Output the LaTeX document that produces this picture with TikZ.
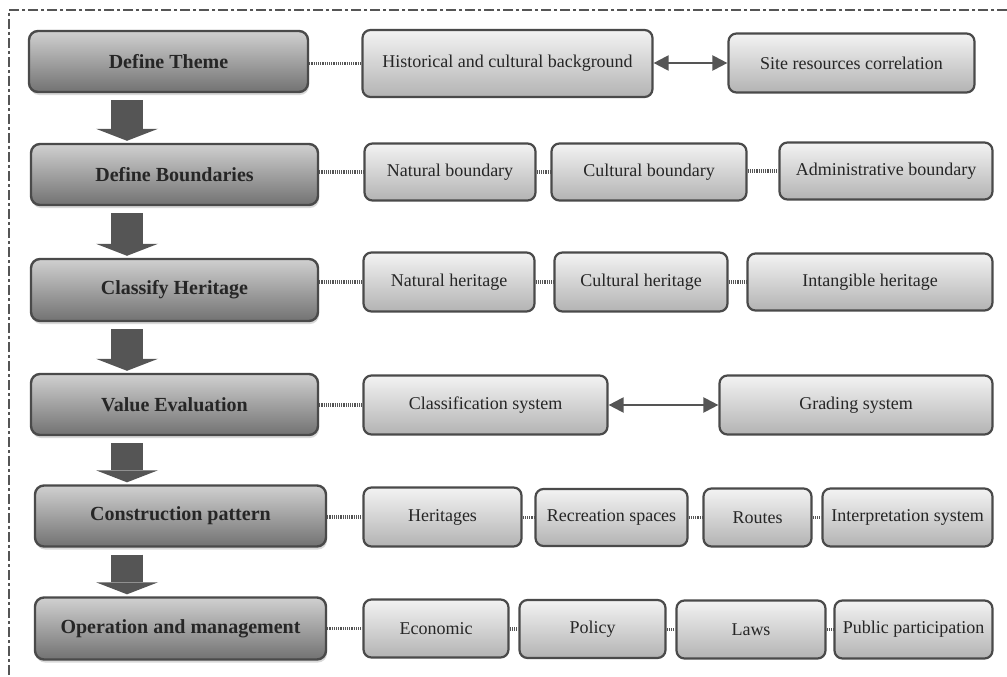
\documentclass[tikz,border=0pt]{standalone}
\usepackage{fontspec}
\setmainfont{Liberation Serif}
\usetikzlibrary{arrows.meta,shadows}
\definecolor{boxline}{HTML}{4A4A4A}
\definecolor{stagetop}{HTML}{D0D0D0}
\definecolor{stagebot}{HTML}{727272}
\definecolor{itemtop}{HTML}{F3F3F3}
\definecolor{itembot}{HTML}{B3B3B3}
\definecolor{ink}{HTML}{262626}
\definecolor{arrowgray}{HTML}{555555}
\tikzset{
	size/.style 2 args={minimum width=#1pt, minimum height=#2pt},
	stage/.style={draw=boxline, line width=2.4pt, rounded corners=9pt, top color=stagetop, bottom color=stagebot,
		text=ink, inner sep=0pt, font=\fontsize{20}{24}\selectfont\bfseries,
		drop shadow={shadow xshift=1pt, shadow yshift=-3pt, opacity=0.3}},
	item/.style={draw=boxline, line width=2.2pt, rounded corners=8pt, top color=itemtop, bottom color=itembot,
		text=ink, inner sep=0pt, font=\fontsize{18}{22}\selectfont},
	link/.style={draw=arrowgray, line width=3.5pt, dash pattern=on 1.1pt off 1.1pt},
	pair/.style={draw=arrowgray, line width=2.2pt, {Triangle[length=15pt,width=15pt]}-{Triangle[length=15pt,width=15pt]}},
	flow/.style={draw=arrowgray, line width=32pt, shorten <=7pt, shorten >=2pt, -{Triangle[length=12pt,width=62pt,line width=0pt]}},
	frame/.style={draw=arrowgray, line width=2.2pt, dash pattern=on 10pt off 3pt on 3pt off 3pt}
}
\begin{document}
\begin{tikzpicture}[x=1pt,y=-1pt]
	\useasboundingbox (0,0) rectangle (1007,677);
	\draw[frame] (1007,10) -- (9,10) -- (9,677);
	%% stages
	\node[stage, size={279}{61}] (theme) at (168.5,61.5) {Define Theme};
	\node[stage, size={287}{61}] (bound) at (174.5,174.5) {Define Boundaries};
	\node[stage, size={287}{62}] (classify) at (174.5,290) {Classify Heritage};
	\node[stage, size={287}{61}] (value) at (174.5,404.5) {Value Evaluation};
	\node[stage, size={291}{61}] (constr) at (180.5,516) {Construction pattern};
	\node[stage, size={291}{62}] (oper) at (180.5,628.5) {Operation and management};
	%% row items
	\node[item, size={290}{67}] (hist) at (507.5,63.5) {Historical and cultural background};
	\node[item, size={246}{59}] (site) at (851.5,63) {Site resources correlation};
	\node[item, size={171}{57}] (natb) at (450,172) {Natural boundary};
	\node[item, size={195}{57}] (culb) at (649,172) {Cultural boundary};
	\node[item, size={213}{57}] (admb) at (886,171) {Administrative boundary};
	\node[item, size={171}{59}] (nath) at (449,282) {Natural heritage};
	\node[item, size={173}{59}] (culh) at (641,282) {Cultural heritage};
	\node[item, size={245}{57}] (intg) at (870,282) {Intangible heritage};
	\node[item, size={244}{59}] (clas) at (485.5,405) {Classification system};
	\node[item, size={273}{59}] (grad) at (856,405) {Grading system};
	\node[item, size={158}{59}] (her) at (442.5,517) {Heritages};
	\node[item, size={152}{57}] (rec) at (611.5,517.5) {Recreation spaces};
	\node[item, size={108}{58}] (rout) at (757.5,517.5) {Routes};
	\node[item, size={170}{58}] (interp) at (907.5,517.5) {Interpretation system};
	\node[item, size={145}{58}] (econ) at (436,628.5) {Economic};
	\node[item, size={146}{58}] (pol) at (592.5,629) {Policy};
	\node[item, size={149}{58}] (laws) at (751,629.5) {Laws};
	\node[item, size={158}{58}] (pub) at (913.5,629.5) {Public participation};
	%% links
	\foreach \a/\b in {theme/hist, bound/natb, natb/culb, culb/admb, classify/nath, nath/culh, culh/intg,
		value/clas, constr/her, her/rec, rec/rout, rout/interp, oper/econ, econ/pol, pol/laws, laws/pub}
		\draw[link] (\b.west -| \a.east) -- (\b.west);
	\draw[pair] (hist.east |- site.west) -- (site.west);
	\draw[pair] (clas.east) -- (grad.west);
	%% big arrows
	\coordinate (ax) at (127,0);
	\foreach \a/\b in {theme/bound, bound/classify, classify/value, value/constr, constr/oper}
		\draw[flow] (\a.south -| ax) -- (\b.north -| ax);
\end{tikzpicture}
\end{document}
